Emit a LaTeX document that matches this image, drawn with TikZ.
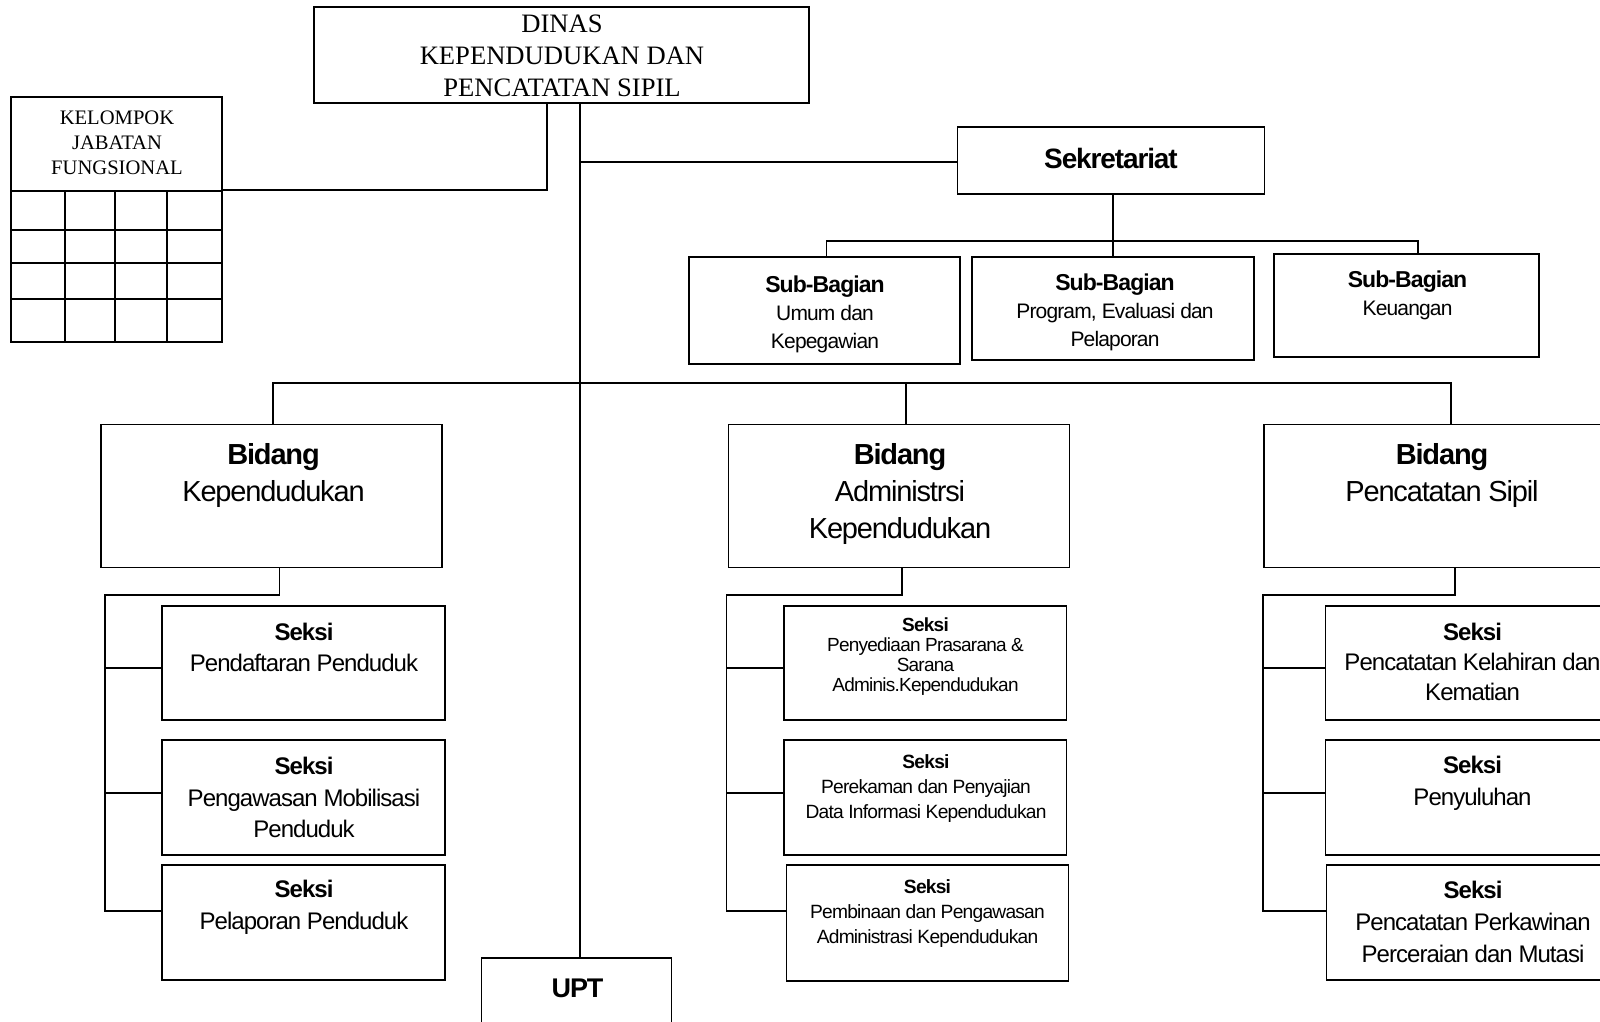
\documentclass[tikz,border=0pt]{standalone}
\usepackage{fontspec}
\setmainfont{Liberation Serif}
\newfontfamily\tightsans[LetterSpace=-4]{Liberation Sans}
\begin{document}
\begin{tikzpicture}[x=0.5pt,y=-0.5pt,
  box/.style={draw, line width=0.8pt, rectangle, inner sep=0pt},
  serif/.style={align=center, inner sep=0pt},
  sans/.style={align=center, inner sep=0pt},
  link/.style={line width=0.85pt},
  thinlink/.style={line width=0.6pt},
  gridline/.style={line width=0.8pt}]
\useasboundingbox (0,0) rectangle (1600,1022);
\clip (0,0) rectangle (1600,1022);

% ---- top level ----
\node[box, minimum width=247.5pt, minimum height=48pt] (dinas) at (561.5,55) {};
\node[serif, font=\fontsize{13.3}{16}\selectfont] (dinas-t) at (562,55.5)
  {DINAS\\KEPENDUDUKAN DAN\\PENCATATAN SIPIL};

% ---- functional group with its grid ----
\node[box, minimum width=105.5pt, minimum height=122.5pt] (kel) at (116.5,219.5) {};
\node[serif, font=\fontsize{10.3}{12.5}\selectfont] (kel-t) at (117,142.5)
  {KELOMPOK\\JABATAN\\FUNGSIONAL};
\foreach \yy in {191,230,263,299} \draw[gridline] (11,\yy) -- (222,\yy);
\foreach \xx in {65,115,167} \draw[gridline] (\xx,191) -- (\xx,342);

% ---- secretariat ----
\node[box, minimum width=153.5pt, minimum height=33.5pt] (sek) at (1111,160.5) {};
\node[sans, font=\tightsans\fontsize{14}{17}\selectfont\bfseries] (sek-t) at (1111,158) {Sekretariat};

\node[box, minimum width=135.5pt, minimum height=53.5pt] (sb1) at (824.5,310.5) {};
\node[box, minimum width=141pt, minimum height=51.5pt] (sb2) at (1113,308.5) {};
\node[box, minimum width=132.5pt, minimum height=51.5pt] (sb3) at (1406.5,305.5) {};
\node[sans, font=\tightsans\fontsize{10.5}{14}\selectfont] (sb1-t) at (825,314.5)
  {{\fontsize{11.5}{14}\selectfont\bfseries Sub-Bagian}\\Umum dan\\Kepegawian};
\node[sans, font=\tightsans\fontsize{10.5}{14}\selectfont] (sb2-t) at (1115,312)
  {{\fontsize{11.5}{14}\selectfont\bfseries Sub-Bagian}\\Program, Evaluasi dan\\Pelaporan};
\node[sans, font=\tightsans\fontsize{10.5}{14}\selectfont] (sb3-t) at (1407.5,295.5)
  {{\fontsize{11.5}{14}\selectfont\bfseries Sub-Bagian}\\Keuangan};

% ---- divisions ----
\node[box, minimum width=170.5pt, minimum height=71.5pt] (bk) at (271.5,496) {};
\node[box, minimum width=170.5pt, minimum height=71.5pt] (ba) at (899,496) {};
\node[box, minimum width=178pt, minimum height=71.5pt] (bp) at (1442,496) {};
\node[sans, font=\tightsans\fontsize{14.5}{18.4}\selectfont] (bk-t) at (273.5,475.5)
  {{\bfseries Bidang}\\Kependudukan};
\node[sans, font=\tightsans\fontsize{14.5}{18.4}\selectfont] (ba-t) at (900,494)
  {{\bfseries Bidang}\\Administrsi\\Kependudukan};
\node[sans, font=\tightsans\fontsize{14.5}{18.4}\selectfont] (bp-t) at (1442,475.5)
  {{\bfseries Bidang}\\Pencatatan Sipil};

% ---- sections: Kependudukan ----
\node[box, minimum width=141.5pt, minimum height=57pt] (s1) at (303.5,663) {};
\node[box, minimum width=141.5pt, minimum height=57.5pt] (s2) at (303.5,797.5) {};
\node[box, minimum width=141.5pt, minimum height=57.5pt] (s3) at (303.5,922.5) {};
\node[sans, font=\tightsans\fontsize{12}{15.8}\selectfont] (s1-t) at (304,647.5)
  {{\bfseries Seksi}\\Pendaftaran Penduduk};
\node[sans, font=\tightsans\fontsize{12}{15.8}\selectfont] (s2-t) at (304,797.5)
  {{\bfseries Seksi}\\Pengawasan Mobilisasi\\Penduduk};
\node[sans, font=\tightsans\fontsize{12}{15.8}\selectfont] (s3-t) at (304,907.5)
  {{\bfseries Seksi}\\Pelaporan Penduduk};

% ---- sections: Administrasi Kependudukan ----
\node[box, minimum width=141.3pt, minimum height=57pt] (m1) at (925,663) {};
\node[box, minimum width=141.3pt, minimum height=57.5pt] (m2) at (925,797.5) {};
\node[box, minimum width=140.9pt, minimum height=58pt] (m3) at (927.5,923) {};
\node[sans, font=\tightsans\fontsize{9.5}{10}\selectfont] (m1-t) at (925.5,656.5)
  {{\bfseries Seksi}\\Penyediaan Prasarana \&\\Sarana\\Adminis.Kependudukan};
\node[sans, font=\tightsans\fontsize{9.6}{12.5}\selectfont] (m2-t) at (926,789)
  {{\bfseries Seksi}\\Perekaman dan Penyajian\\Data Informasi Kependudukan};
\node[sans, font=\tightsans\fontsize{9.6}{12.5}\selectfont] (m3-t) at (927.5,914)
  {{\bfseries Seksi}\\Pembinaan dan Pengawasan\\Administrasi Kependudukan};

% ---- sections: Pencatatan Sipil ----
\node[box, minimum width=147pt, minimum height=57pt] (r1) at (1472.5,663) {};
\node[box, minimum width=147pt, minimum height=57.5pt] (r2) at (1472.5,797.5) {};
\node[box, minimum width=147pt, minimum height=57.5pt] (r3) at (1473.5,922.5) {};
\node[sans, font=\tightsans\fontsize{12}{15}\selectfont] (r1-t) at (1472.5,662)
  {{\bfseries Seksi}\\Pencatatan Kelahiran dan\\Kematian};
\node[sans, font=\tightsans\fontsize{12}{15.8}\selectfont] (r2-t) at (1472.5,783)
  {{\bfseries Seksi}\\Penyuluhan};
\node[sans, font=\tightsans\fontsize{12}{15.8}\selectfont] (r3-t) at (1473,922)
  {{\bfseries Seksi}\\Pencatatan Perkawinan\\Perceraian dan Mutasi};

% ---- technical unit ----
\node[box, minimum width=95pt, minimum height=42pt] (upt) at (576.5,1000) {};
\node[sans, font=\tightsans\fontsize{13.5}{16}\selectfont\bfseries] (upt-t) at (577.5,988) {UPT};

% ---- connectors ----
\coordinate (keljoin) at (547,190);
\draw[link] (keljoin |- dinas.south) -- (keljoin) -- (keljoin -| kel.east);

\coordinate (trunk) at (580,0);
\coordinate (sekjoin) at (580,162);
\draw[link] (trunk |- dinas.south) -- (trunk |- upt.north);
\draw[link] (sekjoin) -- (sekjoin -| sek.west);

\coordinate (sbmid) at (1113,241);
\coordinate (sbleft) at (826.5,241);
\coordinate (sbright) at (1418,241);
\draw[link] (sbmid |- sek.south) -- (sbmid |- sb2.north);
\draw[link] (sbleft |- sb1.north) -- (sbleft) -- (sbright) -- (sbright |- sb3.north);

\coordinate (bbl) at (273,383);
\coordinate (bbm) at (906,383);
\coordinate (bbr) at (1451,383);
\draw[thinlink] (bbl |- bk.north) -- (bbl) -- (bbr) -- (bbr |- bp.north);
\draw[thinlink] (bbm) -- (bbm |- ba.north);

% Kependudukan sections
\coordinate (kdrop) at (279.6,595);
\coordinate (kb1) at (105,668);
\coordinate (kb2) at (105,793);
\coordinate (kb3) at (105,911);
\draw[thinlink] (kdrop |- bk.south) -- (kdrop) -- (kb1 |- kdrop) -- (kb3) -- (kb3 -| s3.west);
\draw[thinlink] (kb1) -- (kb1 -| s1.west);
\draw[thinlink] (kb2) -- (kb2 -| s2.west);

% Administrasi sections
\coordinate (adrop) at (902,595);
\coordinate (ab1) at (726.5,668);
\coordinate (ab2) at (726.5,793);
\coordinate (ab3) at (726.5,911);
\draw[thinlink] (adrop |- ba.south) -- (adrop) -- (ab1 |- adrop) -- (ab3) -- (ab3 -| m3.west);
\draw[thinlink] (ab1) -- (ab1 -| m1.west);
\draw[thinlink] (ab2) -- (ab2 -| m2.west);

% Pencatatan Sipil sections
\coordinate (pdrop) at (1455,595);
\coordinate (pb1) at (1263,668);
\coordinate (pb2) at (1263,793);
\coordinate (pb3) at (1263,911);
\draw[thinlink] (pdrop |- bp.south) -- (pdrop) -- (pb1 |- pdrop) -- (pb3) -- (pb3 -| r3.west);
\draw[thinlink] (pb1) -- (pb1 -| r1.west);
\draw[thinlink] (pb2) -- (pb2 -| r2.west);
\end{tikzpicture}
\end{document}
